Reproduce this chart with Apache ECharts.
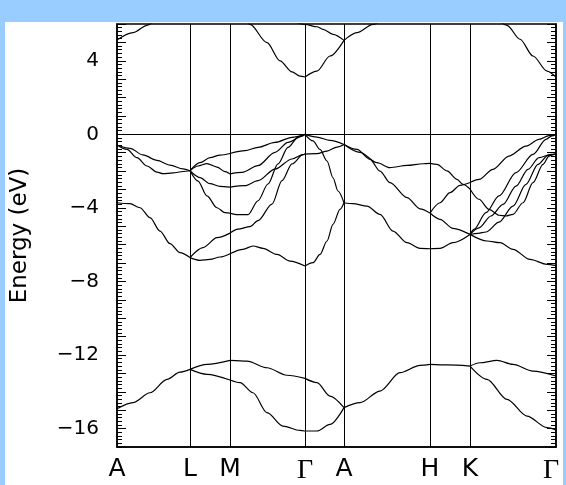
<!DOCTYPE html>
<html>
<head>
<meta charset="utf-8">
<script src="https://cdn.jsdelivr.net/npm/echarts@6/dist/echarts.min.js"></script>
<style>
  html, body { margin:0; padding:0; background:#99ccff; }
  #panel { position:absolute; left:5px; top:22px; width:558px; height:463px; background:#fff; }
  #chart { position:absolute; left:0; top:0; width:566px; height:485px; }
</style>
</head>
<body>
<div id="panel"></div>
<div id="chart"></div>
<script>
// high-symmetry points along the k-path
const symK = [0, 73, 113, 188, 227, 313, 353, 439];
const symLabels = ['A', 'L', 'M', 'Γ', 'A', 'H', 'K', 'Γ'];
const yTicks = [-16, -12, -8, -4, 0, 4];

// band curves per path section, points are [k, E (eV)]
const bandsAL = [
  [[0,-0.58],[13,-0.76],[26,-1.12],[40,-1.41],[53,-1.67],[66,-1.88],[73,-1.98]],
  [[0,-0.58],[10,-0.82],[20,-1.27],[30,-1.72],[40,-2.05],[46,-2.14],[56,-2.10],[66,-2.02],[73,-1.98]],
  [[0,-3.72],[13,-3.77],[23,-3.99],[33,-4.53],[43,-5.26],[53,-5.94],[63,-6.43],[73,-6.70]],
  [[0,-14.92],[16,-14.59],[33,-14.05],[50,-13.32],[63,-12.93],[73,-12.78]],
  [[0,5.13],[16,5.53],[30,5.93],[40,6.3]]
];
const bandsLM = [
  [[73,-1.98],[83,-1.54],[93,-1.27],[103,-1.13],[113,-1.04]],
  [[73,-1.98],[81,-1.72],[90,-1.59],[100,-1.78],[108,-2.03],[113,-2.15]],
  [[73,-1.98],[83,-2.35],[93,-2.68],[103,-2.83],[113,-2.87]],
  [[73,-1.98],[81,-2.54],[90,-3.35],[100,-3.99],[108,-4.26],[113,-4.28]],
  [[73,-6.70],[86,-6.16],[100,-5.62],[113,-5.37]],
  [[73,-6.70],[83,-6.85],[93,-6.80],[103,-6.67],[113,-6.49]],
  [[73,-12.78],[90,-12.51],[113,-12.29]],
  [[73,-12.78],[90,-13.05],[113,-13.36]]
];
const bandsMG = [
  [[113,-1.04],[128,-0.89],[141,-0.71],[158,-0.44],[175,-0.16],[188,0]],
  [[113,-2.15],[125,-2.07],[141,-1.70],[158,-0.98],[171,-0.44],[185,-0.10],[188,0]],
  [[113,-2.87],[128,-2.79],[141,-2.52],[158,-1.89],[175,-1.34],[186,-1.10],[188,-1.07]],
  [[113,-4.28],[121,-4.37],[131,-4.37],[141,-3.61],[151,-2.70],[161,-1.61],[171,-0.71],[181,-0.16],[188,0]],
  [[113,-5.37],[121,-5.15],[133,-5.02],[141,-4.69],[155,-3.79],[165,-2.52],[175,-1.61],[186,-1.10],[188,-1.07]],
  [[113,-6.49],[126,-6.25],[136,-6.07],[146,-6.20],[160,-6.53],[173,-6.89],[188,-7.16]],
  [[113,-12.29],[130,-12.33],[150,-12.69],[170,-13.10],[188,-13.27]],
  [[113,-13.36],[123,-13.50],[136,-14.05],[150,-15.13],[166,-15.86],[183,-16.10],[188,-16.13]],
  [[128,6.3],[133,5.98],[150,4.99],[163,4.00],[175,3.40],[183,3.17],[188,3.12]]
];
const bandsGA = [
  [[188,0],[200,-0.15],[213,-0.33],[227,-0.55]],
  [[188,0],[196,-0.36],[203,-0.82],[210,-1.45],[216,-2.36],[221,-3.08],[227,-3.72]],
  [[188,-1.07],[200,-1.05],[210,-0.91],[220,-0.69],[227,-0.55]],
  [[188,-7.16],[196,-6.98],[203,-6.53],[210,-5.80],[216,-4.89],[223,-4.08],[227,-3.72]],
  [[188,-13.27],[200,-13.50],[213,-14.23],[227,-14.86]],
  [[188,-16.13],[200,-16.13],[213,-15.77],[227,-14.86]],
  [[188,3.12],[200,3.44],[213,4.26],[227,5.11]],
  [[178,6.1],[188,5.98],[200,5.85],[206,5.71],[216,5.44],[227,5.11]]
];
const bandsAH = [
  [[227,-0.55],[243,-0.98],[260,-1.54],[273,-1.81],[290,-1.69],[306,-1.60],[313,-1.58]],
  [[227,-0.55],[240,-0.82],[253,-1.36],[263,-2.00],[273,-2.63],[290,-3.44],[303,-4.05],[313,-4.28]],
  [[227,-3.72],[236,-3.77],[250,-3.90],[263,-4.35],[276,-5.26],[290,-5.89],[303,-6.20],[313,-6.22]],
  [[227,-14.86],[243,-14.59],[263,-13.96],[283,-12.96],[303,-12.56],[313,-12.51]],
  [[227,5.11],[240,5.53],[256,5.98],[270,6.4]]
];
const bandsHK = [
  [[313,-1.58],[320,-1.63],[330,-1.99],[340,-2.45],[346,-2.72],[353,-2.97]],
  [[313,-4.28],[323,-3.72],[333,-3.17],[343,-2.77],[353,-2.62]],
  [[313,-4.28],[323,-4.62],[336,-5.11],[353,-5.44]],
  [[313,-6.22],[323,-6.20],[336,-5.89],[353,-5.44]],
  [[313,-12.51],[330,-12.54],[353,-12.60]]
];
const bandsKG = [
  [[353,-2.62],[362,-2.45],[376,-1.90],[392,-1.18],[409,-0.64],[422,-0.27],[432,-0.07],[439,0]],
  [[353,-2.97],[362,-3.53],[372,-4.08],[382,-4.40],[389,-4.44],[396,-4.35],[406,-3.72],[416,-2.63],[426,-1.63],[432,-1.18],[437,-1.09],[439,-1.07]],
  [[353,-5.44],[357,-5.17],[369,-4.26],[382,-3.35],[399,-2.08],[416,-1.09],[429,-0.27],[435,-0.08],[439,0]],
  [[353,-5.44],[362,-5.08],[374,-4.44],[386,-3.81],[399,-2.81],[411,-1.90],[422,-1.27],[434,-1.09],[439,-1.07]],
  [[353,-5.44],[361,-5.38],[369,-5.31],[382,-4.77],[396,-3.90],[409,-2.72],[421,-1.63],[431,-1.14],[437,-1.09],[439,-1.07]],
  [[353,-5.44],[370,-5.80],[383,-5.89],[396,-6.25],[413,-6.80],[430,-7.07],[439,-7.14]],
  [[353,-12.60],[363,-12.42],[380,-12.29],[396,-12.51],[416,-12.87],[439,-13.14]],
  [[353,-12.60],[370,-13.32],[390,-14.41],[410,-15.32],[430,-15.95],[439,-16.08]],
  [[378,6.4],[390,5.93],[403,5.17],[416,4.26],[430,3.44],[439,3.12]]
];

const allCurves = [].concat(bandsAL, bandsLM, bandsMG, bandsGA, bandsAH, bandsHK, bandsKG);

const series = allCurves.map(function (c) {
  return {
    type: 'line',
    data: c,
    showSymbol: false,
    smooth: 0.3,
    smoothMonotone: 'x',
    silent: true,
    lineStyle: { color: '#000', width: 1.2 }
  };
});
// vertical lines at symmetry points + Fermi level
series[0].markLine = {
  silent: true,
  symbol: 'none',
  label: { show: false },
  lineStyle: { color: '#000', width: 1, type: 'solid' },
  data: symK.slice(1, -1).map(function (k) { return { xAxis: k }; }).concat([{ yAxis: 0 }])
};

const yAxisBase = {
  type: 'value',
  min: -17,
  max: 6,
  interval: 1,
  axisLine: { show: true, lineStyle: { color: '#000', width: 1.5 } },
  axisTick: { show: true, inside: true, length: 9, lineStyle: { color: '#000' } },
  minorTick: { show: true, splitNumber: 5, length: 5, lineStyle: { color: '#000' } },
  splitLine: { show: false }
};

const option = {
  animation: false,
  grid: {
    left: 117, right: 10, top: 24, bottom: 38,
    show: true, borderColor: '#000', borderWidth: 1.5,
    outerBoundsMode: 'none'
  },
  xAxis: {
    type: 'value',
    min: 0,
    max: 439,
    axisLine: { show: true, onZero: false, lineStyle: { color: '#000', width: 1.5 } },
    axisTick: { show: false },
    splitLine: { show: false },
    axisLabel: {
      customValues: symK,
      color: '#000',
      fontSize: 25,
      fontFamily: 'DejaVu Sans',
      margin: 10,
      formatter: function (v) {
        const i = symK.indexOf(v);
        const lab = symLabels[i] || '';
        if (lab !== 'Γ') return lab;
        return i === symK.length - 1 ? '{g2|Γ}' : '{g|Γ}';
      },
      rich: {
        g: { fontFamily: 'Liberation Serif', fontSize: 28, color: '#000' },
        g2: { fontFamily: 'Liberation Serif', fontSize: 28, color: '#000', padding: [0, 10, 0, 0] }
      }
    }
  },
  yAxis: [
    Object.assign({}, yAxisBase, {
      position: 'left',
      name: 'Energy (eV)',
      nameLocation: 'middle',
      nameGap: 85,
      nameTextStyle: { fontSize: 23, color: '#000', fontFamily: 'DejaVu Sans' },
      axisLabel: {
        color: '#000',
        fontSize: 20,
        fontFamily: 'DejaVu Sans',
        margin: 18,
        formatter: function (v) {
          return yTicks.indexOf(v) >= 0 ? String(v).replace('-', '\u2212') : '';
        }
      }
    }),
    Object.assign({}, yAxisBase, {
      position: 'right',
      axisLabel: { show: false }
    })
  ],
  series: series
};

const chart = echarts.init(document.getElementById('chart'), null, { renderer: 'canvas' });
chart.setOption(option);
</script>
</body>
</html>
